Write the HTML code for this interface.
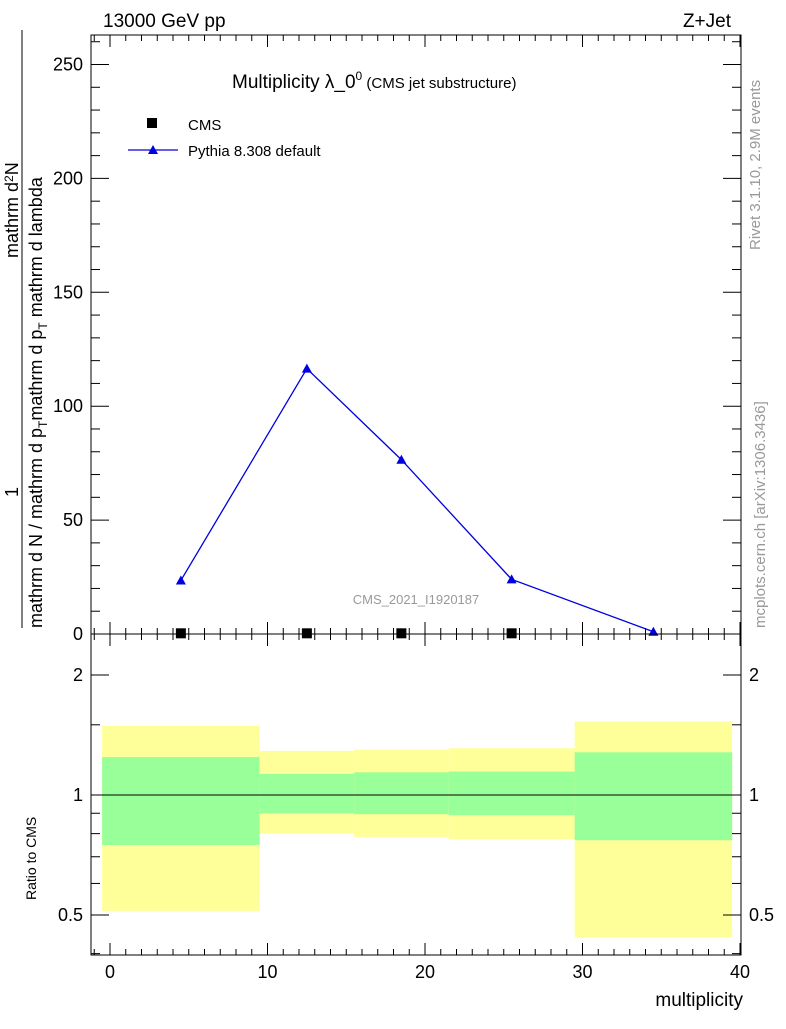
<!DOCTYPE html>
<html><head><meta charset="utf-8"><style>
body{margin:0;background:#fff;font-family:"Liberation Sans",sans-serif}
</style></head><body>
<svg id="c" width="786" height="1024" xmlns="http://www.w3.org/2000/svg" font-family="Liberation Sans, sans-serif">
<g id="bands"></g>
<g id="main"></g>
<g id="axes"></g>
<text x="103" y="27" font-size="19">13000 GeV pp</text>
<text x="731" y="27" font-size="19" text-anchor="end">Z+Jet</text>
<text x="232" y="88" font-size="19">Multiplicity λ_0<tspan font-size="12" dy="-8">0</tspan><tspan font-size="15" dy="8"> (CMS jet substructure)</tspan></text>
<rect x="147" y="118" width="10" height="10" fill="#000"/>
<text x="188" y="130" font-size="15">CMS</text>
<line x1="128" y1="150" x2="178" y2="150" stroke="#0000e0" stroke-width="1.3"/>
<polygon points="153,145 158,154 148,154" fill="#0000e0"/>
<text x="188" y="156" font-size="15">Pythia 8.308 default</text>
<text x="416" y="604" font-size="13" fill="#999" text-anchor="middle">CMS_2021_I1920187</text>
<text transform="translate(760,250) rotate(-90)" font-size="15" fill="#999">Rivet 3.1.10,  2.9M events</text>
<text transform="translate(765,628) rotate(-90)" font-size="15" fill="#999">mcplots.cern.ch [arXiv:1306.3436]</text>
<text transform="translate(42,628) rotate(-90)" font-size="18">mathrm d N / mathrm d p<tspan font-size="12" dy="5">T</tspan><tspan dy="-5">mathrm d p</tspan><tspan font-size="12" dy="5">T</tspan><tspan dy="-5"> mathrm d lambda</tspan></text>
<line x1="22" y1="628" x2="22" y2="30" stroke="#000"/>
<text transform="translate(18,497) rotate(-90)" font-size="18">1</text>
<text transform="translate(18,258) rotate(-90)" font-size="18">mathrm d<tspan font-size="12" dy="-5">2</tspan><tspan dy="5">N</tspan></text>
<text transform="translate(36,900) rotate(-90)" font-size="14">Ratio to CMS</text>
<text x="743" y="1006" font-size="19" text-anchor="end">multiplicity</text>
</svg>
<script>
const xCenters=[4.5,12.5,18.5,25.5,34.5];
const pythiaVals=[23.5,116.5,76.5,24,1];
const cmsVals=[0.3,0.3,0.3,0.3];
const binEdges=[-0.5,9.5,15.5,21.5,29.5,39.5];
const yellowHi=[1.49,1.29,1.30,1.31,1.53];
const yellowLo=[0.512,0.80,0.785,0.775,0.44];
const greenHi=[1.245,1.13,1.14,1.145,1.28];
const greenLo=[0.749,0.9,0.895,0.89,0.77];
const xTicks=[0,10,20,30,40];
const yTicks=[0,50,100,150,200,250];
const rTicks=[0.5,1,2];
const NS="http://www.w3.org/2000/svg";
const X=v=>110+(v)*15.75;
const Y=v=>634-v*2.278;
const R=v=>795-Math.log2(v)*120;
const L=91,Rt=741,T=35,M=634,B=955;
function mk(p,t,a){const e=document.createElementNS(NS,t);for(const k in a)e.setAttribute(k,a[k]);document.getElementById(p).appendChild(e);return e;}
for(let i=0;i<binEdges.length-1;i++){
 let e=mk('bands','rect',{x:X(binEdges[i]),y:R(yellowHi[i]),width:X(binEdges[i+1])-X(binEdges[i]),height:R(yellowLo[i])-R(yellowHi[i]),fill:'#ffff99'});
 
 
 e=mk('bands','rect',{x:X(binEdges[i]),y:R(greenHi[i]),width:X(binEdges[i+1])-X(binEdges[i]),height:R(greenLo[i])-R(greenHi[i]),fill:'#99ff99'});
 
 
}
let ln=mk('bands','line',{x1:L,x2:Rt,y1:R(1),y2:R(1),stroke:'#000','stroke-width':1});


let pl=mk('main','polyline',{points:xCenters.map((x,i)=>X(x)+','+Y(pythiaVals[i])).join(' '),fill:'none',stroke:'#0000e0','stroke-width':1.3});


xCenters.forEach((x,i)=>{const cx=X(x),cy=Y(pythiaVals[i]);
 const p=mk('main','polygon',{points:`${cx},${cy-5} ${cx+5},${cy+4} ${cx-5},${cy+4}`,fill:'#0000e0'});
 
 });
cmsVals.forEach((v,i)=>{const r=mk('main','rect',{x:X(xCenters[i])-5,y:Y(v)-5,width:10,height:10,fill:'#000'});
 
 });
['main','ratio'].forEach(k=>{const t=k=='main'?T:M,b=k=='main'?M:B;
 const f=mk('axes','rect',{x:L,y:t,width:Rt-L,height:b-t,fill:'none',stroke:'#000','stroke-width':1});
 
 
 for(let v=-1;v<=40;v++){const big=v%10==0,h=big?12:6;
  mk('axes','line',{x1:X(v),x2:X(v),y1:b,y2:b-h,stroke:'#000'});
  mk('axes','line',{x1:X(v),x2:X(v),y1:t,y2:t+h,stroke:'#000'});}
});
xTicks.forEach(v=>{const t=mk('axes','text',{x:X(v),y:978,'font-size':18,'text-anchor':'middle'});t.textContent=v;
 
 });
for(let v=0;v<=260;v+=10){const big=v%50==0,w=big?18:9;
 mk('axes','line',{x1:L,x2:L+w,y1:Y(v),y2:Y(v),stroke:'#000'});
 mk('axes','line',{x1:Rt,x2:Rt-w,y1:Y(v),y2:Y(v),stroke:'#000'});}
yTicks.forEach(v=>{const t=mk('axes','text',{x:83,y:Y(v)+6,'font-size':18,'text-anchor':'end'});t.textContent=v;
 
 });
[0.4,0.5,0.6,0.7,0.8,0.9,1,1.5,2].forEach(v=>{const big=[0.5,1,2].includes(v),w=big?18:9;
 mk('axes','line',{x1:L,x2:L+w,y1:R(v),y2:R(v),stroke:'#000'});
 mk('axes','line',{x1:Rt,x2:Rt-w,y1:R(v),y2:R(v),stroke:'#000'});});
rTicks.forEach(v=>{[[83,'end'],[749,'start']].forEach(([x,a])=>{const t=mk('axes','text',{x:x,y:R(v)+6,'font-size':18,'text-anchor':a});t.textContent=v;
 
 });});
</script>
</body></html>
